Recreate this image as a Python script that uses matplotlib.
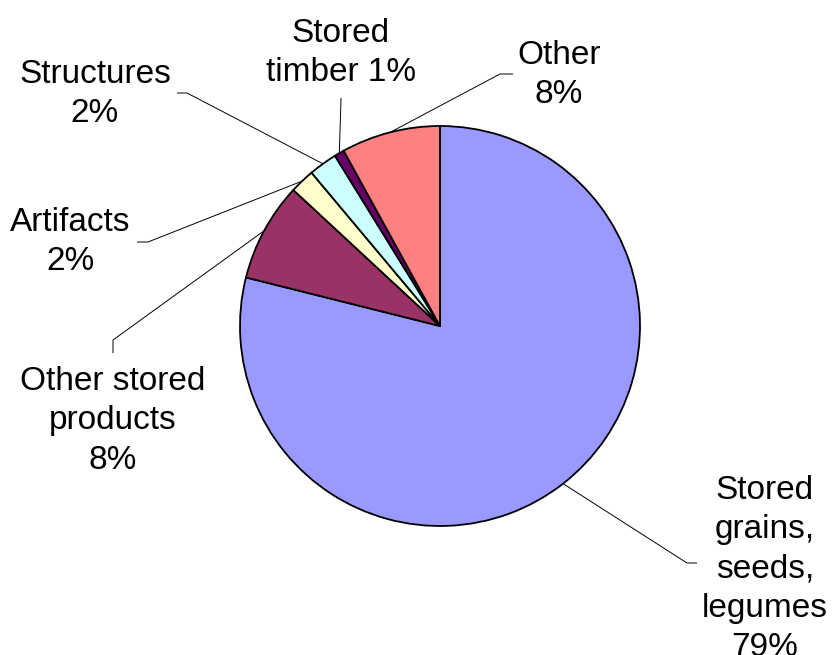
import matplotlib
matplotlib.use("Agg")
import matplotlib.pyplot as plt
import numpy as np

# ---- data ----
categories = ["Stored\ngrains,\nseeds,\nlegumes", "Other stored\nproducts", "Artifacts",
              "Structures", "Stored\ntimber", "Other"]
values = [78.9, 8.0, 2.0, 2.3, 0.8, 8.0]
pct_sep = ["\n", "\n", "\n", "\n", " ", "\n"]
colors = ["#9999FF", "#993366", "#FFFFCC", "#CCFFFF", "#660066", "#FF8080"]

# ---- layout (pixel coords, y from top) ----
W, H = 832, 655
cx, cy, R = 440, 326, 200
label_pos = [(765, 569), (113, 421), (70, 242), (95, 94), (341, 53), (559, 75)]
stub_start = [(697, 563), (113, 353), (137, 242), (177, 93), (341, 98), (513, 74)]
stub_elbow = [(687, 563), (113, 340), (148, 242), (187, 93), (341, 100), (500, 74)]

plt.rcParams['font.family'] = ['Liberation Sans', 'DejaVu Sans']
fig = plt.figure(figsize=(W / 100, H / 100), dpi=100)
ax = fig.add_axes([0, 0, 1, 1])

ax.pie(values, colors=colors, startangle=90, counterclock=False,
       center=(cx, H - cy), radius=R,
       wedgeprops=dict(edgecolor='black', linewidth=1.3))
ax.set_xlim(0, W)
ax.set_ylim(0, H)
ax.set_aspect('equal')
ax.axis('off')

total = sum(values)
cum = 0.0
for i, v in enumerate(values):
    mid = np.deg2rad(90 - 360 * (cum + v / 2) / total)
    cum += v
    ex, ey = cx + R * np.cos(mid), (H - cy) + R * np.sin(mid)
    sx, sy = stub_start[i]
    bx, by = stub_elbow[i]
    ax.plot([sx, bx, ex], [H - sy, H - by, ey], color='black', lw=0.7,
            solid_capstyle='butt', zorder=0.5)
    txt = f"{categories[i]}{pct_sep[i]}{round(v):d}%"
    lx, ly = label_pos[i]
    ax.text(lx, H - ly, txt, ha='center', va='center', multialignment='center',
            fontsize=24, linespacing=1.34, color='black')

fig.savefig("out.png", dpi=100, facecolor='white')
